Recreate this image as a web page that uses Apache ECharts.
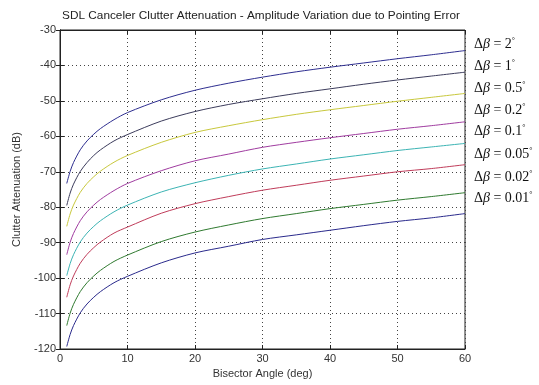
<!DOCTYPE html>
<html>
<head>
<meta charset="utf-8">
<script src="https://cdn.jsdelivr.net/npm/echarts@6/dist/echarts.min.js"></script>
<style>html,body{margin:0;padding:0;background:#fff;}#c{width:539px;height:385px;}</style>
</head>
<body>
<div id="c"></div>
<script>
var xValues = [1,1.5,2,3,4,5,6,8,10,15,20,25,30,35,40,45,50,55,60];
var seriesNames = ['2', '1', '0.5', '0.2', '0.1', '0.05', '0.02', '0.01'];
var beta2   = [-73.3,-69.9,-67.4,-63.8,-61.3,-59.4,-57.8,-55.3,-53.3,-49.7,-47.0,-45.0,-43.3,-41.8,-40.5,-39.3,-38.1,-37.0,-35.8];
var beta1   = [-79.5,-76.0,-73.5,-69.9,-67.4,-65.4,-63.8,-61.3,-59.5,-55.7,-53.0,-51.0,-49.4,-47.9,-46.6,-45.3,-44.1,-43.0,-41.9];
var beta05  = [-85.4,-81.9,-79.4,-75.8,-73.3,-71.4,-69.8,-67.3,-65.4,-61.7,-58.9,-57.0,-55.3,-53.8,-52.5,-51.3,-50.1,-49.0,-47.9];
var beta02  = [-93.4,-89.9,-87.4,-83.8,-81.3,-79.4,-77.8,-75.3,-73.3,-69.7,-66.9,-65.0,-63.1,-61.7,-60.4,-59.2,-58.0,-57.0,-55.9];
var beta01  = [-99.3,-95.9,-93.4,-89.8,-87.3,-85.4,-83.8,-81.3,-79.4,-75.7,-73.1,-71.0,-69.2,-67.8,-66.4,-65.2,-64.0,-63.0,-62.0];
var beta005 = [-105.4,-101.9,-99.4,-95.8,-93.3,-91.4,-89.8,-87.3,-85.6,-81.7,-79.0,-77.0,-75.2,-73.8,-72.4,-71.2,-70.0,-69.1,-68.0];
var beta002 = [-113.4,-109.9,-107.4,-103.8,-101.3,-99.4,-97.8,-95.3,-93.5,-89.7,-87.0,-85.0,-83.2,-81.8,-80.4,-79.2,-78.0,-77.0,-75.9];
var beta001 = [-119.3,-115.9,-113.4,-109.8,-107.3,-105.4,-103.8,-101.3,-99.5,-95.7,-92.9,-91.0,-89.1,-87.8,-86.5,-85.2,-84.0,-83.0,-81.8];
var allValues = [beta2, beta1, beta05, beta02, beta01, beta005, beta002, beta001];
var colors = ['#2e2e90', '#3c3c5c', '#c8c83c', '#a03ca0', '#3cb4b4', '#c03c5a', '#2f7a2f', '#2a2a8c'];

var chart = echarts.init(document.getElementById('c'));
var series = allValues.map(function (vals, i) {
  return {
    name: seriesNames[i],
    type: 'line',
    showSymbol: false,
    smooth: 0.3,
    data: xValues.map(function (x, j) { return [x, vals[j]]; }),
    lineStyle: { color: colors[i], width: 1 },
    itemStyle: { color: colors[i] },
    xAxisIndex: 0, yAxisIndex: 0
  };
});

var labelTops = [37, 59, 81, 103, 124, 147, 170, 191];
var graphics = seriesNames.map(function (n, i) {
  return {
    type: 'text',
    left: 474,
    top: labelTops[i],
    style: {
      text: '{a|\u0394}{b|\u03b2}{a| = ' + n + '}{d|\u00b0}',
      rich: {
        a: { fontFamily: 'Liberation Serif', fontSize: 14, fill: '#111', verticalAlign: 'bottom' },
        b: { fontFamily: 'Liberation Serif', fontSize: 14, fontStyle: 'italic', fill: '#111', verticalAlign: 'bottom' },
        d: { fontFamily: 'Liberation Serif', fontSize: 8, fill: '#111', verticalAlign: 'top' }
      }
    }
  };
});

var gridLine = { show: true, lineStyle: { color: '#444', type: [1, 3], width: 1 } };
var lbl = { color: '#333', fontFamily: 'Liberation Sans', fontSize: 11 };
chart.setOption({
  animation: false,
  title: {
    text: 'SDL Canceler Clutter Attenuation - Amplitude Variation due to Pointing Error',
    left: 256, top: 5, textAlign: 'center',
    textStyle: { fontFamily: 'Liberation Sans', fontSize: 11.8, fontWeight: 'normal', color: '#222' }
  },
  grid: { left: 60, right: 74, top: 30, bottom: 36, show: true, borderColor: '#222', borderWidth: 1, backgroundColor: '#fff' },
  xAxis: [{
    type: 'value', min: 0, max: 60, interval: 10,
    name: 'Bisector Angle (deg)', nameLocation: 'middle', nameGap: 17,
    nameTextStyle: { color: '#333', fontFamily: 'Liberation Sans', fontSize: 11 },
    axisLine: { show: true, lineStyle: { color: '#222' } },
    axisTick: { show: true, inside: true, length: 4, lineStyle: { color: '#222' } },
    axisLabel: Object.assign({ margin: 4 }, lbl),
    splitLine: gridLine
  }, {
    type: 'value', min: 0, max: 60, interval: 10, position: 'top',
    axisLine: { show: true, lineStyle: { color: '#222' } },
    axisTick: { show: true, inside: true, length: 4, lineStyle: { color: '#222' } },
    axisLabel: { show: false }, splitLine: { show: false }
  }],
  yAxis: [{
    type: 'value', min: -120, max: -30, interval: 10,
    name: 'Clutter Attenuation (dB)', nameLocation: 'middle', nameGap: 38,
    nameTextStyle: { color: '#333', fontFamily: 'Liberation Sans', fontSize: 11 },
    axisLine: { show: true, lineStyle: { color: '#222' } },
    axisTick: { show: true, inside: true, length: 4, lineStyle: { color: '#222' } },
    axisLabel: Object.assign({ margin: 4 }, lbl),
    splitLine: gridLine
  }, {
    type: 'value', min: -120, max: -30, interval: 10, position: 'right',
    axisLine: { show: true, lineStyle: { color: '#222' } },
    axisTick: { show: true, inside: true, length: 4, lineStyle: { color: '#222' } },
    axisLabel: { show: false }, splitLine: { show: false }
  }],
  series: series,
  graphic: graphics
});
</script>
</body>
</html>
